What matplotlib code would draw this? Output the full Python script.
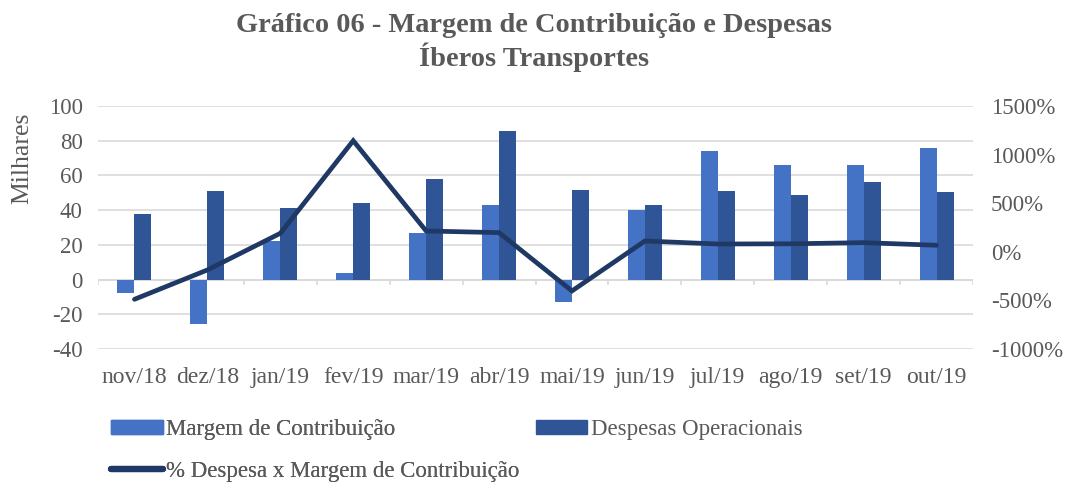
import matplotlib
matplotlib.use("Agg")
import matplotlib.pyplot as plt
from matplotlib.lines import Line2D
from matplotlib.patches import Patch
import numpy as np

categories = ["nov/18", "dez/18", "jan/19", "fev/19", "mar/19", "abr/19",
              "mai/19", "jun/19", "jul/19", "ago/19", "set/19", "out/19"]
margem = [-7.7, -25.9, 22.1, 3.6, 26.9, 42.8, -13.1, 40.3, 74.3, 66.1, 66.1, 75.7]
despesas = [37.6, 51.3, 41.5, 44.0, 58.0, 85.5, 51.5, 42.8, 50.9, 48.6, 56.3, 50.3]
pct = [-489, -187, 190, 1143, 214, 197, -403, 111, 80, 82, 94, 67]

left_ticks = [-40, -20, 0, 20, 40, 60, 80, 100]
right_ticks = [-1000, -500, 0, 500, 1000, 1500]

plt.rcParams['font.family'] = ['Liberation Serif', 'DejaVu Serif']
TXT = "#595959"
C_M = "#4472C4"
C_D = "#2F5597"
C_L = "#1F3864"
GRID = "#D9D9D9"

fig = plt.figure(figsize=(10.69, 4.84), dpi=100)
ax = fig.add_axes([0.0917, 0.279, 0.8185, 0.502])
x = np.arange(len(categories))
w = 0.233
ax.bar(x - w / 2, margem, w, color=C_M, zorder=2)
ax.bar(x + w / 2, despesas, w, color=C_D, zorder=2)
ax.set_xlim(-0.5, len(categories) - 0.5)
ax.set_ylim(-40, 100)
ax.set_yticks(left_ticks)
ax.set_yticklabels([str(t) for t in left_ticks])
for s in ax.spines.values():
    s.set_visible(False)
ax.grid(axis='y', color=GRID, linewidth=1.2, zorder=0)
ax.axhline(0, color=GRID, linewidth=1.2, zorder=1)
ax.vlines(np.arange(len(categories) + 1) - 0.5, -2.9, 0, color=GRID, linewidth=1.2, zorder=1)
ax.set_xticks(x)
ax.set_xticklabels(categories)
ax.tick_params(axis='x', length=0, pad=13, labelsize=17, labelcolor=TXT)
ax.tick_params(axis='y', length=0, pad=11, labelsize=16.5, labelcolor=TXT)
ax.set_ylabel("Milhares", fontsize=18.5, color=TXT)
ax.yaxis.set_label_coords(-0.074, 0.786)

ax2 = ax.twinx()
ax2.plot(x, pct, color=C_L, linewidth=3.4, solid_capstyle='round', solid_joinstyle='miter', zorder=3)
ax2.set_ylim(-1000, 1500)
ax2.set_yticks(right_ticks)
ax2.set_yticklabels([f"{t}%" for t in right_ticks])
ax2.tick_params(axis='y', length=0, pad=13, labelsize=16.5, labelcolor=TXT)
for s in ax2.spines.values():
    s.set_visible(False)

fig.text(0.5, 0.947, "Gráfico 06 - Margem de Contribuição e Despesas", ha='center', va='center',
         fontsize=20.4, fontweight='bold', color=TXT)
fig.text(0.5, 0.882, "Íberos Transportes", ha='center', va='center',
         fontsize=20.4, fontweight='bold', color=TXT)

h_m = Patch(color=C_M, label="Margem de Contribuição")
h_d = Patch(color=C_D, label="Despesas Operacionais")
h_l = Line2D([], [], color=C_L, linewidth=4.5, solid_capstyle='round',
             label="% Despesa x Margem de Contribuição")
common = dict(frameon=False, fontsize=16.5, handlelength=2.25, handleheight=0.6,
              handletextpad=0.15, labelcolor=TXT, borderaxespad=0, borderpad=0,
              labelspacing=0.9, loc='center left')
legA = fig.legend(handles=[h_m, h_l], bbox_to_anchor=(0.104, 0.069), **common)
fig.add_artist(legA)
legB = fig.legend(handles=[h_d], bbox_to_anchor=(0.501, 0.112), **common)

fig.savefig("out.png", dpi=100)
